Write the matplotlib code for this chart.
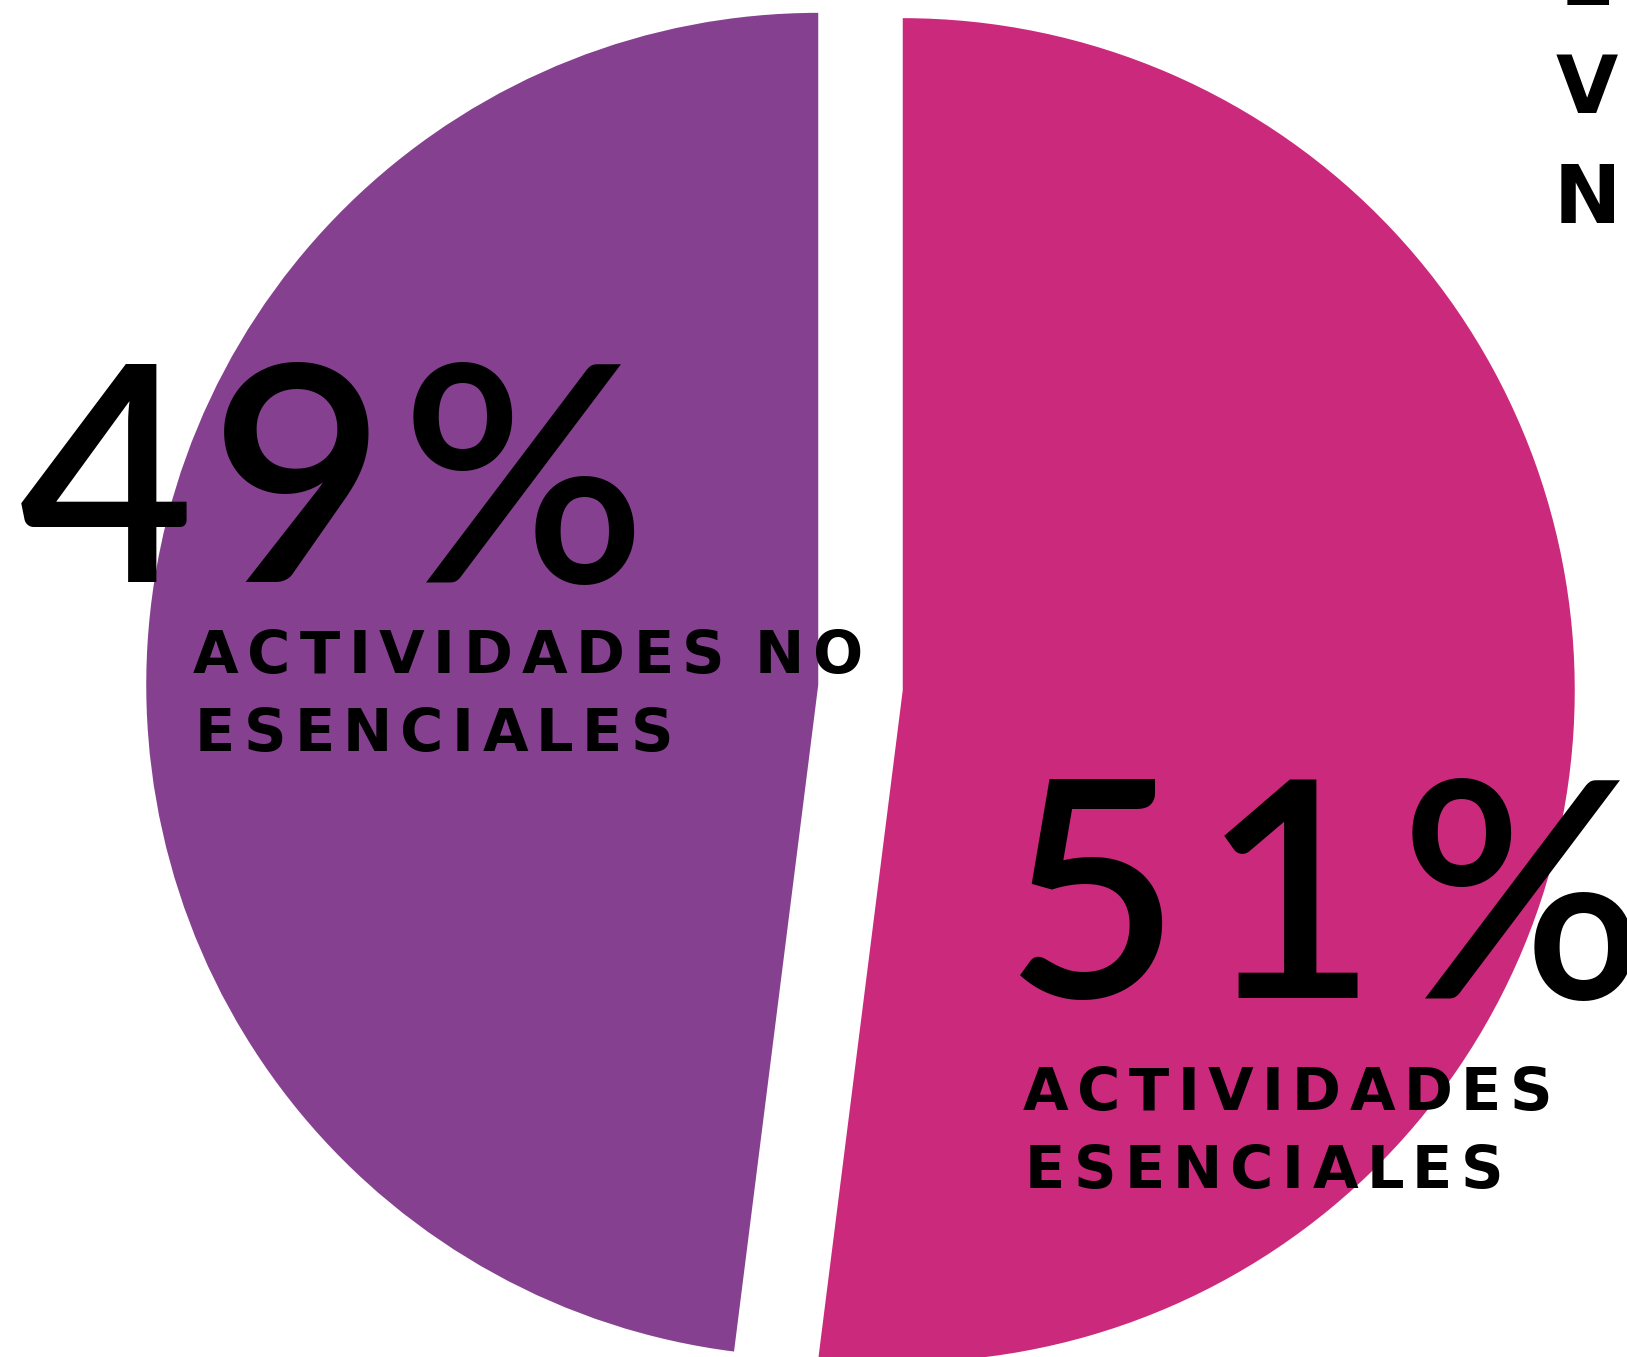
import matplotlib
matplotlib.use("Agg")
import matplotlib.pyplot as plt

# slice sizes as drawn (the printed labels say 49 / 51)
shares = [48, 52]
slice_colors = ["#85418F", "#CB297B"]
big_labels = ["49%", "51%"]
small_labels = [["ACTIVIDADES NO", "ESENCIALES"], ["ACTIVIDADES", "ESENCIALES"]]
side_letters = ["E", "V", "N"]

W, H = 1627, 1357
cx, cy, R = 860.5, 687.5, 672.0  # pie centre / radius in image pixels

fig = plt.figure(figsize=(W / 100, H / 100), dpi=100)
fig.patch.set_facecolor("white")
ax = fig.add_axes([0, 0, 1, 1])

ax.pie(shares, colors=slice_colors, startangle=90, counterclock=True,
       explode=[0.063, 0.063], radius=1, center=(0, 0),
       wedgeprops=dict(linewidth=0))
ax.set_xlim((0 - cx) / R, (W - cx) / R)
ax.set_ylim((cy - H) / R, (cy - 0) / R)
ax.set_aspect("auto")
ax.axis("off")


def to_data(x, y):
    return (x - cx) / R, (cy - y) / R


renderer = fig.canvas.get_renderer()


def spaced(x_left, y_base, s, size, width, family, weight="bold"):
    # lay letters out one by one so the line fills the given width
    letters = []
    space_before = []
    pending = False
    for c in s:
        if c == " ":
            pending = True
            continue
        t = ax.text(0, 0, c, fontsize=size, ha="left", va="baseline",
                    family=family, weight=weight, color="black")
        letters.append((t, t.get_window_extent(renderer).width))
        space_before.append(pending)
        pending = False
    n_sp = sum(space_before)
    ink = sum(w for _, w in letters)
    g = (width - ink) / (len(letters) - 1 + 2.5 * n_sp)
    x = x_left
    for i, (t, w) in enumerate(letters):
        if i > 0:
            x += g * (3.5 if space_before[i] else 1.0)
        t.set_position(to_data(x, y_base))
        x += w


big_font = ["Lato", "DejaVu Sans"]
small_font = ["DejaVu Sans"]

# 49% block
spaced(19, 582, big_labels[0], 218, 627, big_font, weight="semibold")
spaced(193, 673, small_labels[0][0], 42.5, 670, small_font)
spaced(195, 751, small_labels[0][1], 42.5, 478, small_font)

# 51% block
spaced(1005, 998, big_labels[1], 218, 640, big_font, weight="semibold")
spaced(1023, 1110, small_labels[1][0], 42.5, 529, small_font)
spaced(1025, 1188, small_labels[1][1], 42.5, 478, small_font)

# vertical letters at the top right edge
for letter, yb in zip(side_letters, [5, 113, 223]):
    ax.text(*to_data(1587, yb), letter, fontsize=58, ha="center",
            va="baseline", family=small_font, weight="bold", color="black")

fig.savefig("out.png", dpi=100, facecolor="white")
